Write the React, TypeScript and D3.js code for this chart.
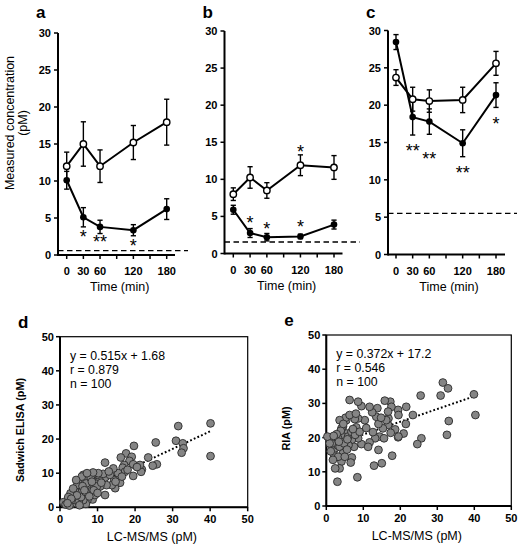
import React from "react";
import * as d3 from "d3";

// ---------- Data: time-course panels ----------
const times = [0, 30, 60, 120, 180];
const timeTicks = [0, 30, 60, 90, 120, 150, 180];
const timeTickLabels = [0, 30, 60, 120, 180];
const concTicks = [0, 5, 10, 15, 20, 25, 30];

const aOpenMean = [12.0, 15.0, 12.0, 15.2, 17.95];
const aOpenErr = [1.9, 3.0, 2.2, 2.3, 3.1];
const aFilledMean = [10.1, 5.1, 3.8, 3.35, 6.2];
const aFilledErr = [1.2, 1.3, 0.9, 0.75, 1.4];
const aLimit = 0.6;
const aStars = [
  { t: 30, v: 3.0, s: "*" },
  { t: 60, v: 2.4, s: "**" },
  { t: 120, v: 1.8, s: "*" },
];

const bOpenMean = [8.0, 10.25, 8.5, 11.9, 11.6];
const bOpenErr = [0.85, 1.45, 1.05, 1.4, 1.6];
const bFilledMean = [5.9, 2.76, 2.2, 2.3, 3.9];
const bFilledErr = [0.6, 0.6, 0.5, 0.3, 0.6];
const bLimit = 1.55;
const bStars = [
  { t: 120, v: 14.2, s: "*" },
  { t: 30, v: 4.75, s: "*" },
  { t: 60, v: 3.85, s: "*" },
  { t: 120, v: 4.1, s: "*" },
];

const cOpenMean = [23.7, 20.8, 20.55, 20.7, 25.6];
const cOpenErr = [1.05, 1.6, 1.5, 1.7, 1.6];
const cFilledMean = [28.45, 18.4, 17.8, 14.9, 21.35];
const cFilledErr = [1.0, 2.4, 1.7, 1.8, 1.65];
const cLimit = 5.5;
const cStars = [
  { t: 30, v: 14.4, s: "**" },
  { t: 60, v: 13.3, s: "**" },
  { t: 120, v: 11.5, s: "**" },
  { t: 180, v: 18.0, s: "*" },
];

// ---------- Data: scatter panels ----------
const pmTicks = [0, 10, 20, 30, 40, 50];

const dPoints: [number, number][] = [
  [40.1, 24.6], [40.1, 15.0], [31.5, 23.8], [30.9, 19.5], [32.7, 18.75], [32.9, 17.3], [32.4, 16.0],
  [25.5, 19.0], [25.8, 12.6], [24.7, 12.2], [23.5, 14.6], [19.7, 18.0], [17.6, 15.8], [16.2, 14.6],
  [19.1, 14.8], [18.5, 13.6], [19.5, 12.6], [21.8, 11.1], [21.6, 10.4], [21.3, 12.4], [19.5, 9.2],
  [17.1, 12.4], [16.7, 11.6], [17.3, 10.4], [15.5, 10.0], [14.2, 11.4], [16.0, 7.2], [14.4, 8.0],
  [14.7, 5.6], [13.8, 6.5], [12.0, 13.1], [12.0, 8.7], [12.0, 3.6], [13.3, 9.5], [12.4, 6.5],
  [10.5, 8.0], [9.9, 9.5], [9.1, 9.8], [8.4, 9.0], [7.5, 9.5], [6.2, 9.5], [9.3, 7.0], [8.4, 6.1],
  [7.3, 5.6], [8.0, 4.6], [8.7, 2.3], [7.3, 2.1], [6.4, 3.6], [5.8, 5.6], [5.3, 7.0], [4.6, 6.5],
  [5.5, 4.3], [4.9, 2.3], [4.0, 4.6], [3.6, 3.1], [2.8, 4.1], [2.7, 2.1], [1.8, 1.7], [0.9, 1.5],
  [3.1, 1.0], [4.3, 1.2], [6.9, 1.0], [6.2, 2.1], [9.3, 3.6], [10.7, 6.1], [7.8, 8.0], [6.7, 8.0],
  [5.8, 9.0], [4.3, 8.0], [9.8, 6.1], [3.5, 5.5], [2.2, 3.0], [1.5, 0.8], [2.5, 0.5], [3.8, 2.2],
  [5.0, 1.5], [5.6, 3.0], [6.8, 4.5], [7.0, 7.0], [8.2, 8.6], [9.0, 5.0], [10.0, 4.2], [11.0, 7.2],
  [11.5, 9.8], [10.2, 10.0], [8.8, 10.2], [7.2, 10.0], [6.0, 6.2], [4.5, 3.5], [3.0, 2.5], [2.0, 1.2],
  [5.2, 0.6], [6.5, 5.0], [7.8, 3.2], [8.5, 7.5], [13.0, 10.5], [14.8, 7.5], [16.5, 9.0], [18.0, 11.0],
  [20.5, 11.8],
];
const dSlope = 0.515;
const dIntercept = 1.68;
const dStats = ["y = 0.515x + 1.68", "r = 0.879", "n = 100"];

const ePoints: [number, number][] = [
  [39.9, 32.65], [40.3, 26.6], [31.5, 36.1], [32.9, 34.4], [30.9, 32.3], [33.1, 24.85], [32.6, 20.8],
  [25.5, 32.3], [25.7, 19.8], [24.6, 18.1], [23.4, 26.6], [21.6, 29.0], [21.5, 24.0], [20.9, 21.2],
  [19.4, 28.1], [19.5, 26.6], [19.4, 20.1], [18.6, 22.4], [17.8, 14.7], [17.3, 30.5], [17.6, 29.0],
  [16.8, 25.6], [16.7, 27.6], [15.8, 30.8], [16.7, 23.7], [16.2, 25.1], [15.3, 22.7], [15.0, 12.5],
  [14.4, 20.3], [14.1, 16.4], [14.1, 24.0], [13.8, 28.6], [13.5, 26.1], [13.2, 19.8], [12.9, 11.8],
  [12.4, 27.4], [11.7, 29.0], [11.7, 18.6], [10.4, 25.1], [9.5, 29.2], [8.6, 30.5], [8.6, 25.6],
  [9.5, 18.1], [8.4, 8.4], [8.6, 19.8], [8.1, 23.0], [7.7, 25.4], [6.9, 19.3], [7.5, 17.3], [6.9, 14.2],
  [6.6, 12.7], [6.3, 31.0], [6.0, 17.8], [5.4, 21.2], [5.4, 25.1], [5.2, 25.8], [4.5, 23.2], [4.1, 20.8],
  [4.1, 22.7], [3.6, 25.1], [4.1, 13.0], [3.6, 11.0], [3.0, 7.1], [2.4, 11.0], [2.1, 14.9], [2.4, 16.9],
  [2.3, 19.3], [3.0, 17.8], [1.5, 18.3], [0.9, 18.3], [0.3, 20.3], [3.2, 19.8], [3.6, 17.3], [4.8, 18.3],
  [5.9, 20.3], [6.8, 21.7], [4.5, 15.4], [3.2, 14.4], [1.8, 13.5], [5.0, 14.4], [7.8, 20.8], [9.0, 21.7],
  [11.3, 17.3], [15.6, 19.8], [17.4, 21.4], [19.5, 20.3], [5.7, 19.5], [6.3, 26.6], [3.9, 22.0],
  [1.2, 16.0], [2.8, 21.0], [3.4, 18.8], [4.6, 24.0], [5.6, 16.5], [7.2, 22.5], [8.0, 27.0], [10.8, 22.8],
  [12.6, 21.6], [14.8, 25.8], [2.0, 20.5],
];
const eSlope = 0.372;
const eIntercept = 17.2;
const eStats = ["y = 0.372x + 17.2", "r = 0.546", "n = 100"];

const FONT = "'Liberation Sans', Arial, Helvetica, sans-serif";

type Star = { t: number; v: number; s: string };

function TimePanel(props: {
  label: string;
  axisX: number;
  x0: number;
  x180: number;
  xEnd: number;
  y0: number;
  y30: number;
  dashEnd: number;
  limit: number;
  openMean: number[];
  openErr: number[];
  filledMean: number[];
  filledErr: number[];
  stars: Star[];
}) {
  const p = props;
  const x = d3.scaleLinear().domain([0, 180]).range([p.x0, p.x180]);
  const y = d3.scaleLinear().domain([0, 30]).range([p.y0, p.y30]);
  const line = d3
    .line<number>()
    .x((_, i) => x(times[i]))
    .y((v) => y(v));
  const cap = 2.6;
  const errBars = (means: number[], errs: number[]) =>
    means.map((m, i) => {
      const cx = x(times[i]);
      const top = y(m + errs[i]);
      const bot = y(m - errs[i]);
      return (
        <g key={i} stroke="#000" strokeWidth={1.4}>
          <line x1={cx} x2={cx} y1={top} y2={bot} />
          <line x1={cx - cap} x2={cx + cap} y1={top} y2={top} />
          <line x1={cx - cap} x2={cx + cap} y1={bot} y2={bot} />
        </g>
      );
    });
  const starSize = 18;
  return (
    <g fontFamily={FONT}>
      <text x={p.axisX - 22} y={18} fontSize={17} fontWeight="bold">
        {p.label}
      </text>
      {/* limit line */}
      <line
        x1={p.axisX}
        x2={p.dashEnd}
        y1={y(p.limit)}
        y2={y(p.limit)}
        stroke="#000"
        strokeWidth={1.3}
        strokeDasharray="5.5,3.5"
      />
      {/* y axis */}
      <line x1={p.axisX} x2={p.axisX} y1={y(0) + 1} y2={y(30)} stroke="#000" strokeWidth={2} />
      {concTicks.map((t) => (
        <g key={t}>
          <line x1={p.axisX - 4} x2={p.axisX} y1={y(t)} y2={y(t)} stroke="#000" strokeWidth={1.5} />
          <text
            x={p.axisX - 7}
            y={y(t) + 4}
            fontSize={11}
            fontWeight="bold"
            textAnchor="end"
          >
            {t}
          </text>
        </g>
      ))}
      {/* x axis */}
      <line x1={p.axisX} x2={p.xEnd} y1={y(0)} y2={y(0)} stroke="#000" strokeWidth={2} />
      {timeTicks.map((t) => (
        <line key={t} x1={x(t)} x2={x(t)} y1={y(0)} y2={y(0) + 4} stroke="#000" strokeWidth={1.5} />
      ))}
      {timeTickLabels.map((t) => (
        <text key={t} x={x(t)} y={y(0) + 20} fontSize={11} fontWeight="bold" textAnchor="middle">
          {t}
        </text>
      ))}
      <text x={x(90) + 3} y={y(0) + 36} fontSize={12.5} textAnchor="middle">
        Time (min)
      </text>
      {/* error bars */}
      {errBars(p.filledMean, p.filledErr)}
      {errBars(p.openMean, p.openErr)}
      {/* lines */}
      <path d={line(p.filledMean) || ""} fill="none" stroke="#000" strokeWidth={2} />
      <path d={line(p.openMean) || ""} fill="none" stroke="#000" strokeWidth={2} />
      {p.filledMean.map((m, i) => (
        <circle key={"f" + i} cx={x(times[i])} cy={y(m)} r={3.3} fill="#000" />
      ))}
      {p.openMean.map((m, i) => (
        <circle key={"o" + i} cx={x(times[i])} cy={y(m)} r={3.2} fill="#fff" stroke="#000" strokeWidth={1.4} />
      ))}
      {p.stars.map((s, i) => (
        <text
          key={"s" + i}
          x={x(s.t)}
          y={y(s.v) + starSize * 0.57}
          fontSize={starSize}
          textAnchor="middle"
        >
          {s.s}
        </text>
      ))}
    </g>
  );
}

function ScatterPanel(props: {
  label: string;
  left: number;
  right: number;
  top: number;
  bottom: number;
  yTitle: string;
  points: [number, number][];
  slope: number;
  intercept: number;
  stats: string[];
}) {
  const p = props;
  const x = d3.scaleLinear().domain([0, 50]).range([p.left, p.right]);
  const y = d3.scaleLinear().domain([0, 50]).range([p.bottom, p.top]);
  const xs = p.points.map((d) => d[0]);
  const fitX = [d3.min(xs) as number, d3.max(xs) as number];
  return (
    <g fontFamily={FONT}>
      <text x={p.left - 42} y={p.top - 9} fontSize={17} fontWeight="bold">
        {p.label}
      </text>
      <rect
        x={p.left}
        y={p.top}
        width={p.right - p.left}
        height={p.bottom - p.top}
        fill="none"
        stroke="#000"
        strokeWidth={1.2}
      />
      <line x1={p.left} x2={p.left} y1={p.bottom} y2={p.top} stroke="#000" strokeWidth={2} />
      <line x1={p.left} x2={p.right} y1={p.bottom} y2={p.bottom} stroke="#000" strokeWidth={2} />
      {pmTicks.map((t) => (
        <g key={t}>
          <line x1={p.left - 4} x2={p.left} y1={y(t)} y2={y(t)} stroke="#000" strokeWidth={1.5} />
          <text x={p.left - 6} y={y(t) + 4} fontSize={11} fontWeight="bold" textAnchor="end">
            {t}
          </text>
          <line x1={x(t)} x2={x(t)} y1={p.bottom} y2={p.bottom + 4} stroke="#000" strokeWidth={1.5} />
          <text x={x(t)} y={p.bottom + 16} fontSize={11} fontWeight="bold" textAnchor="middle">
            {t}
          </text>
        </g>
      ))}
      <text
        transform={`translate(${p.left - 36},${(p.top + p.bottom) / 2 + 8}) rotate(-90)`}
        fontSize={10.8}
        fontWeight="bold"
        textAnchor="middle"
      >
        {p.yTitle}
      </text>
      <text x={(p.left + p.right) / 2 - 2} y={p.bottom + 34} fontSize={12.5} textAnchor="middle">
        LC-MS/MS (pM)
      </text>
      {p.stats.map((s, i) => (
        <text key={s} x={p.left + 10} y={p.top + 23 + i * 14} fontSize={12.3}>
          {s}
        </text>
      ))}
      <line
        x1={x(fitX[0])}
        x2={x(fitX[1])}
        y1={y(p.slope * fitX[0] + p.intercept)}
        y2={y(p.slope * fitX[1] + p.intercept)}
        stroke="#000"
        strokeWidth={2}
        strokeDasharray="1.8,2.2"
      />
      {p.points.map((d, i) => (
        <circle key={i} cx={x(d[0])} cy={y(d[1])} r={3.9} fill="#858585" stroke="#2a2a2a" strokeWidth={0.9} />
      ))}
    </g>
  );
}

export default function App() {
  return (
    <svg
      width={518}
      height={544}
      style={{ position: "absolute", left: 0, top: 0, background: "#fff" }}
    >
      <rect width={518} height={544} fill="#fff" />
      <g fontFamily={FONT}>
        <text transform="translate(14,123) rotate(-90)" fontSize={12.5} textAnchor="middle">
          Measured concentration
        </text>
        <text transform="translate(27,123) rotate(-90)" fontSize={12.5} textAnchor="middle">
          (pM)
        </text>
      </g>
      <TimePanel
        label="a"
        axisX={58}
        x0={66.7}
        x180={166.7}
        xEnd={175}
        y0={255}
        y30={33}
        dashEnd={188}
        limit={aLimit}
        openMean={aOpenMean}
        openErr={aOpenErr}
        filledMean={aFilledMean}
        filledErr={aFilledErr}
        stars={aStars}
      />
      <TimePanel
        label="b"
        axisX={224.5}
        x0={233.3}
        x180={334}
        xEnd={342.5}
        y0={253.5}
        y30={31}
        dashEnd={360}
        limit={bLimit}
        openMean={bOpenMean}
        openErr={bOpenErr}
        filledMean={bFilledMean}
        filledErr={bFilledErr}
        stars={bStars}
      />
      <TimePanel
        label="c"
        axisX={388}
        x0={396}
        x180={496}
        xEnd={505}
        y0={254.5}
        y30={30.5}
        dashEnd={517}
        limit={cLimit}
        openMean={cOpenMean}
        openErr={cOpenErr}
        filledMean={cFilledMean}
        filledErr={cFilledErr}
        stars={cStars}
      />
      <ScatterPanel
        label="d"
        left={60}
        right={247.7}
        top={336.7}
        bottom={507.3}
        yTitle="Sadwich ELISA (pM)"
        points={dPoints}
        slope={dSlope}
        intercept={dIntercept}
        stats={dStats}
      />
      <ScatterPanel
        label="e"
        left={326.3}
        right={511.3}
        top={335}
        bottom={506}
        yTitle="RIA (pM)"
        points={ePoints}
        slope={eSlope}
        intercept={eIntercept}
        stats={eStats}
      />
    </svg>
  );
}
